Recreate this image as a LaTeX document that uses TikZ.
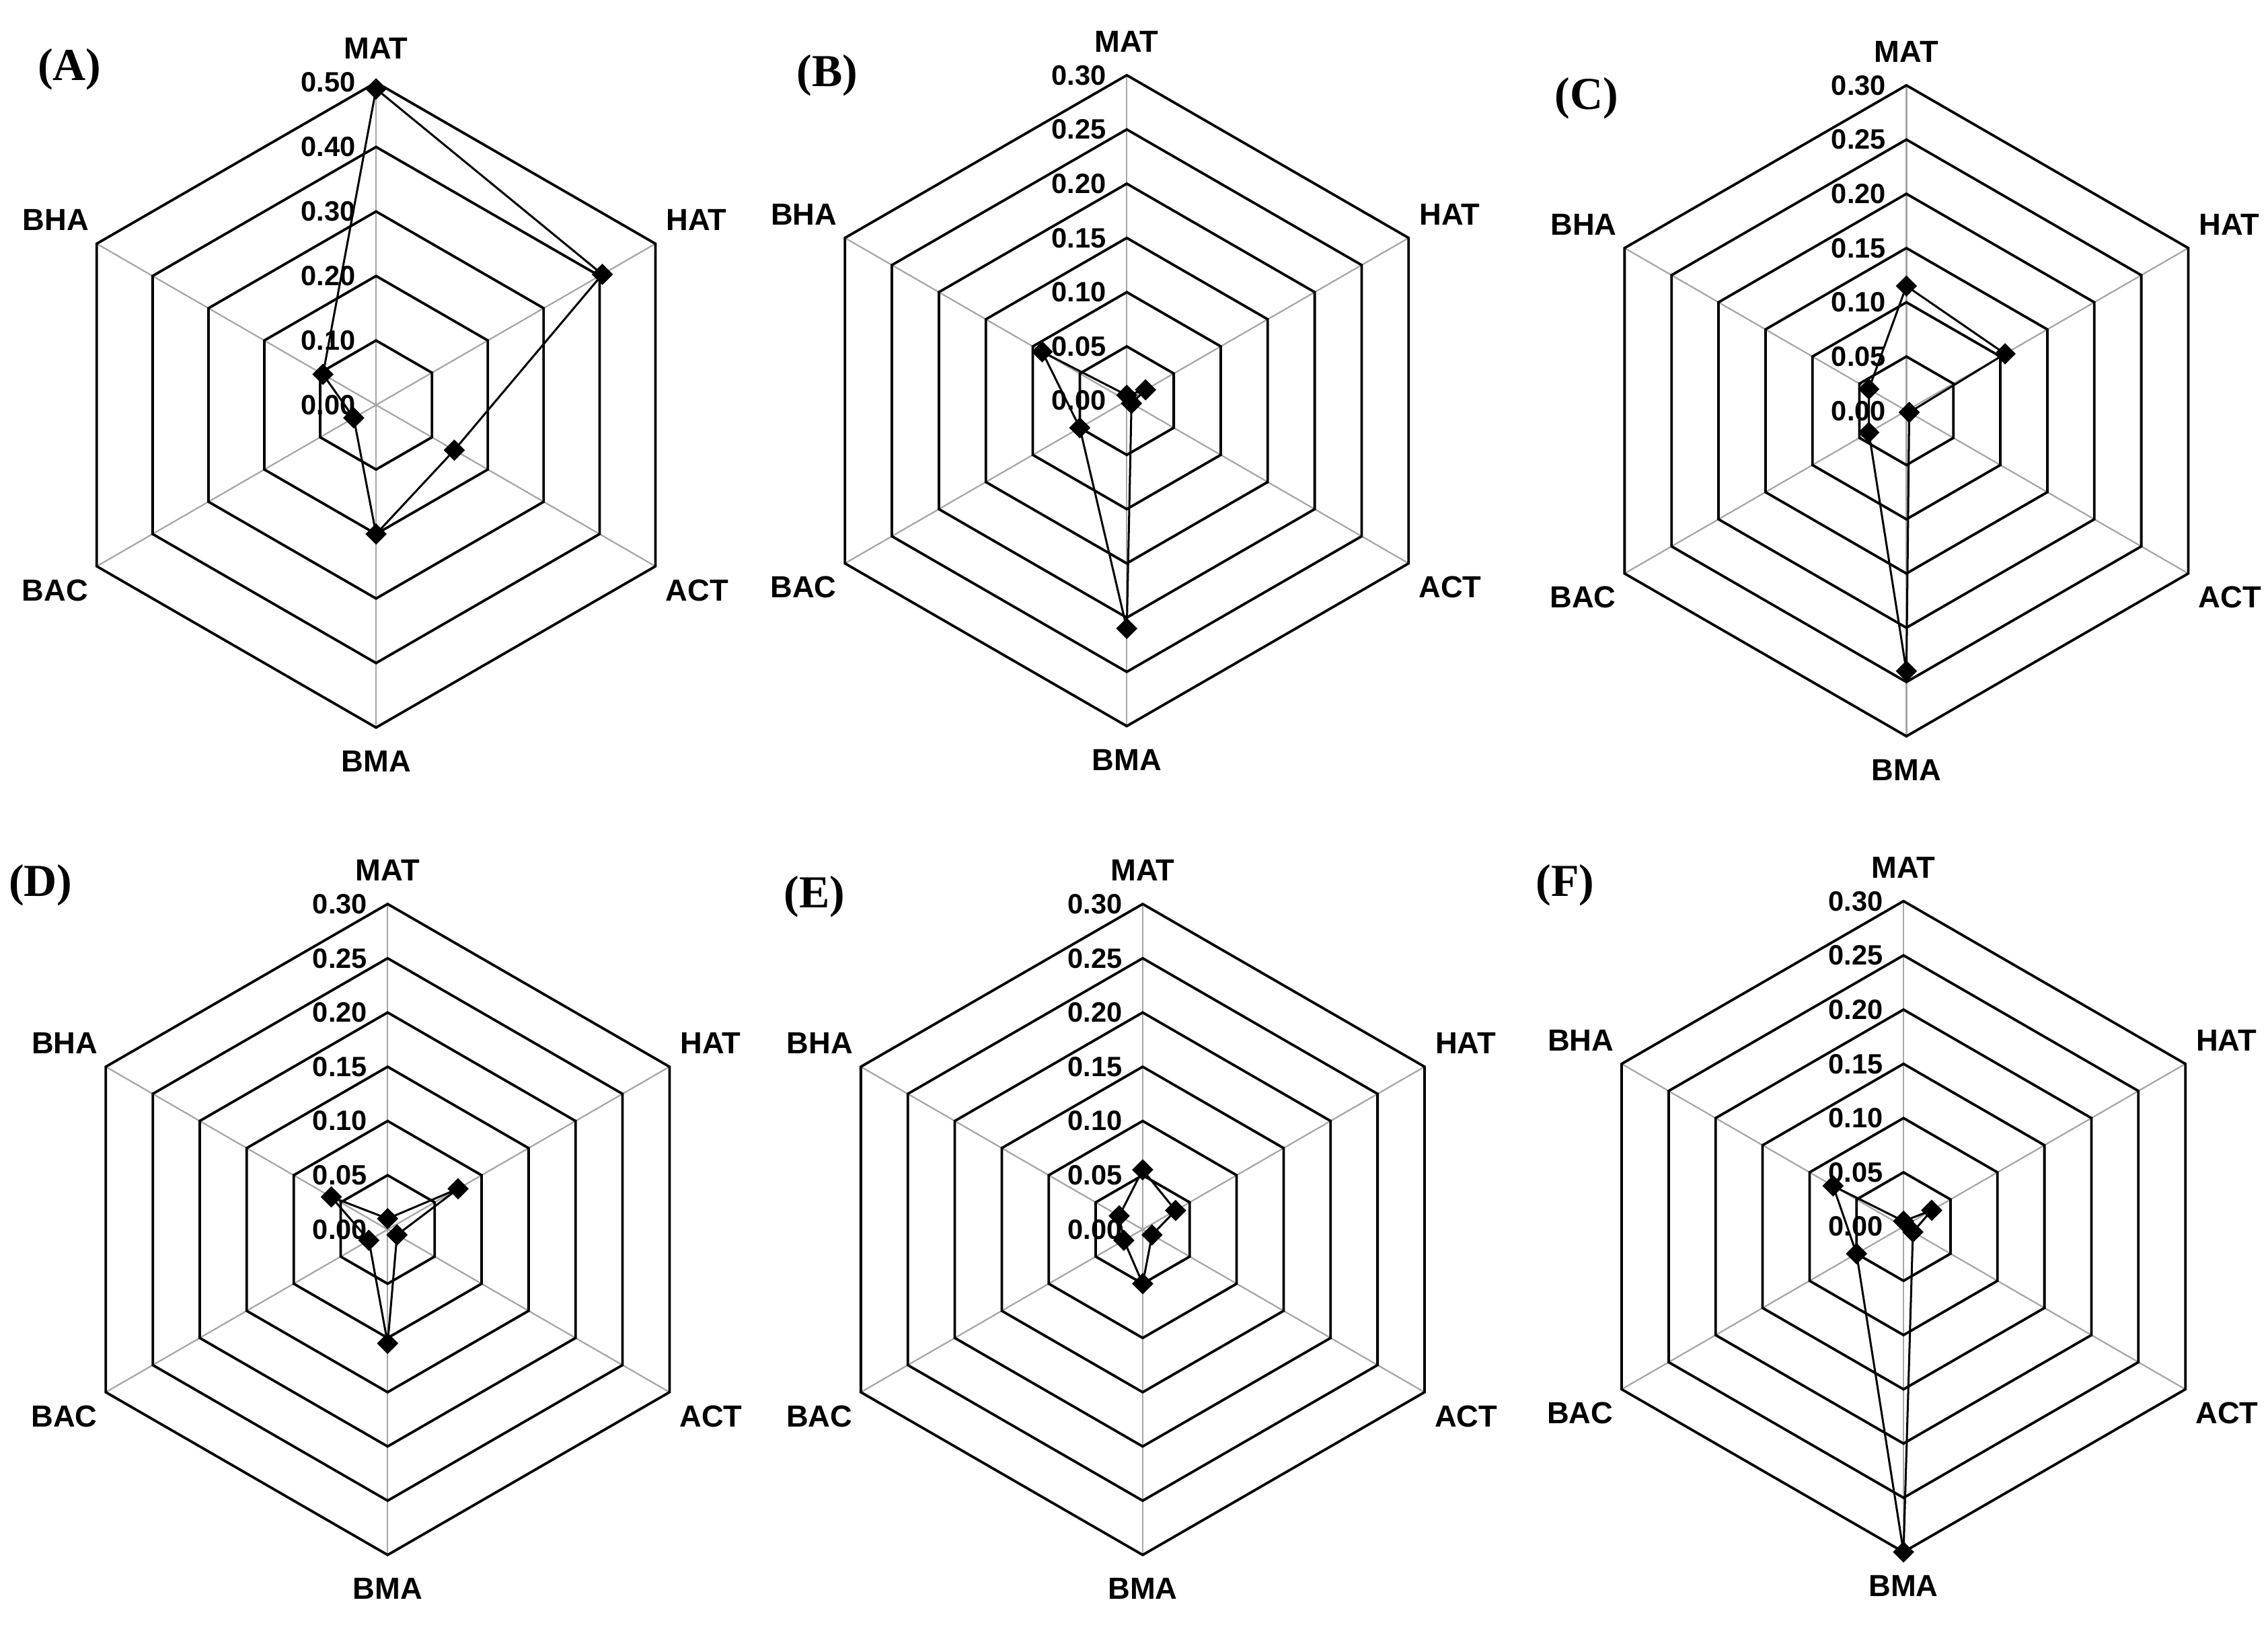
\documentclass[tikz,border=0pt]{standalone}
\usepackage{fontspec}
\setmainfont{Liberation Sans}
\newfontfamily\paneltitle{Liberation Serif}
\usetikzlibrary{shapes.geometric}

\pgfkeys{/pgf/number format/assume math mode=true}
\tikzset{
  spoke/.style={gray!70, line width=0.6pt},
  ring/.style={black, line width=1pt},
  data/.style={black, line width=0.8pt},
  datapt/.style={diamond, fill=black, inner sep=0pt, minimum size=0.3cm},
  tick/.style={anchor=east, font=\bfseries\fontsize{11}{11}\selectfont},
  axis/.style={font=\bfseries\fontsize{12}{12}\selectfont, inner sep=1pt},
  letter/.style={font=\paneltitle\bfseries\fontsize{18}{18}\selectfont}
}

% #1 cx, #2 cy, #3 ring spacing, #4 rings, #5 step, #6 panel, #7 values
\newcommand{\radar}[7]{%
  \begin{scope}[shift={(#1,#2)}]
    \foreach \a in {90,30,-30,-90,-150,150}
      \draw[spoke] (0,0) -- (\a:#3*#4);
    \foreach \k in {1,...,#4}
      \draw[ring] (90:\k*#3) -- (30:\k*#3) -- (-30:\k*#3) -- (-90:\k*#3)
        -- (-150:\k*#3) -- (150:\k*#3) -- cycle;
    \foreach \k in {0,...,#4}{
      \pgfmathsetmacro\tv{\k*#5}
      \node[tick] (#6t\k) at (-8,\k*#3) {\pgfmathprintnumber[fixed,fixed zerofill,precision=2]{\tv}};
    }
    \foreach \a/\t in {90/MAT,30/HAT,-30/ACT,-90/BMA,-150/BAC,150/BHA}{
      \pgfmathsetmacro\an{\a+180}
      \node[axis, anchor=\an] (#6\t) at (\a:#3*#4+14) {\t};
    }
    \foreach \v [count=\i] in {#7}
      \coordinate (#6\i) at ({90-60*(\i-1)}:{\v/#5*#3});
    \draw[data] (#61) -- (#62) -- (#63) -- (#64) -- (#65) -- (#66) -- cycle;
    \foreach \i in {1,...,6}
      \node[datapt] (#6m\i) at (#6\i) {};
  \end{scope}
}

\begin{document}
\begin{tikzpicture}[x=0.02cm, y=0.02cm]
  \useasboundingbox (0,0) rectangle (1568,1123);

  % top row
  \radar{260}{843}{44.6}{5}{0.1}{A}{0.49,0.405,0.14,0.2,0.04,0.095}
  \radar{779}{846}{37.5}{6}{0.05}{B}{0.005,0.02,0.005,0.21,0.05,0.09}
  \radar{1318}{839}{37.5}{6}{0.05}{C}{0.115,0.105,0.003,0.24,0.04,0.04}

  % bottom row
  \radar{268}{273}{37.5}{6}{0.05}{D}{0.01,0.075,0.01,0.105,0.02,0.06}
  \radar{790}{273}{37.5}{6}{0.05}{E}{0.055,0.035,0.01,0.05,0.02,0.025}
  \radar{1316}{275}{37.5}{6}{0.05}{F}{0.005,0.03,0.01,0.3,0.05,0.075}

  % panel letters
  \node[letter] (la) at (48,1075) {(A)};
  \node[letter] (lb) at (572,1071) {(B)};
  \node[letter] (lc) at (1097,1055) {(C)};
  \node[letter] (ld) at (28,511) {(D)};
  \node[letter] (le) at (563,503) {(E)};
  \node[letter] (lf) at (1082,511) {(F)};
\end{tikzpicture}
\end{document}
